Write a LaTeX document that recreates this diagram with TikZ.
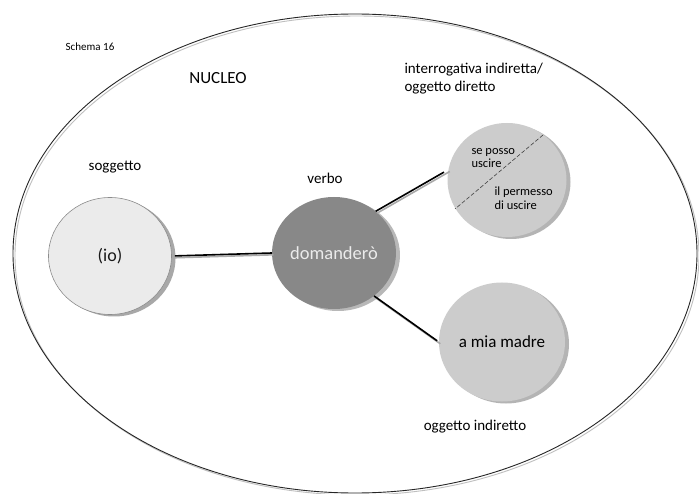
\documentclass[tikz,border=0pt]{standalone}
\usepackage{fontspec}
\setmainfont{Carlito}
\usetikzlibrary{shapes.geometric,shadows}
\definecolor{lightfill}{HTML}{EBEBEB}
\definecolor{lightedge}{HTML}{8C8C8C}
\definecolor{lightshade}{HTML}{A8A8A8}
\definecolor{darkfill}{HTML}{888888}
\definecolor{darkshade}{HTML}{B8B8B8}
\definecolor{midfill}{HTML}{CCCCCC}
\definecolor{midshade}{HTML}{B4B4B4}
\definecolor{linkshade}{HTML}{AAAAAA}
\begin{document}
\begin{tikzpicture}[x=1pt,y=-1pt,
  blob/.style={ellipse, inner sep=0pt, minimum width=122pt, minimum height=116pt,
    general shadow={fill=#1, shadow xshift=4pt, shadow yshift=-2pt}},
  label/.style={font=\fontsize{15}{18}\selectfont, text=black},
  link/.style={line width=1.6pt, black},
  linkback/.style={line width=1.6pt, linkshade, transform canvas={xshift=1.5pt, yshift=-1.8pt}},
]
\useasboundingbox (0,0) rectangle (699,494);
\fill[white] (0,0) rectangle (699,494);

% outer boundary of the nucleus, with its soft offset copy
\draw[line width=0.9pt, black!25] (357,255.5) ellipse [x radius=342pt, y radius=239.5pt];
\draw[line width=0.9pt, black!85] (355,253.5) ellipse [x radius=342pt, y radius=239.5pt];

% headings
\node[font=\fontsize{11}{13}\selectfont, text=black] (title) at (90,47) {Schema 16};
\node[font=\fontsize{17}{20}\selectfont, text=black] (nucleo) at (218,78) {NUCLEO};
\node[label] (lsogg) at (115,167) {soggetto};
\node[label] (lverbo) at (325,178) {verbo};
\node[label, align=left, anchor=west] (lint) at (401,79) {interrogativa indiretta/\\oggetto diretto};
\node[label] (lind) at (475,427) {oggetto indiretto};

% constituents
\node[blob=lightshade, fill=lightfill, draw=lightedge, line width=0.6pt,
      minimum width=123pt, minimum height=117pt,
      font=\fontsize{18}{20}\selectfont, text=black!90] (io) at (110,256) {\raisebox{-2pt}{(io)}};
\node[blob=darkshade, fill=darkfill, minimum width=122pt, minimum height=112pt,
      font=\fontsize{18.5}{20}\selectfont, text=white!92!black] (dom) at (334,253) {\raisebox{-2pt}{domanderò}};
\node[blob=midshade, fill=midfill, minimum width=119pt, minimum height=114pt] (sp) at (507,180) {};
\node[blob=midshade, fill=midfill, minimum width=126pt, minimum height=119pt,
      font=\fontsize{17}{20}\selectfont, text=black] (mm) at (502,342) {a mia madre};

% the two alternatives inside the direct-object circle
\draw[dashed, dash pattern=on 4pt off 2pt, line width=0.6pt, black!75] (543,135) -- (455,209);
\node[font=\fontsize{12.5}{12.5}\selectfont, text=black, align=left, anchor=west] (alt1) at (468,158) {se posso\\uscire};
\node[font=\fontsize{12.5}{14}\selectfont, text=black, align=left, anchor=west] (alt2) at (491,198) {il permesso\\di uscire};

% connectors
\draw[linkback] (io.east) -- (dom.west);
\draw[link, shorten <=3pt] (io.east) -- (dom.west);
\draw[linkback] (dom.45) -- (sp.170);
\draw[link, shorten >=5pt] (dom.45) -- (sp.170);
\draw[linkback] (dom.-47) -- (mm.180);
\draw[link, shorten >=2pt] (dom.-47) -- (mm.180);
\end{tikzpicture}
\end{document}
